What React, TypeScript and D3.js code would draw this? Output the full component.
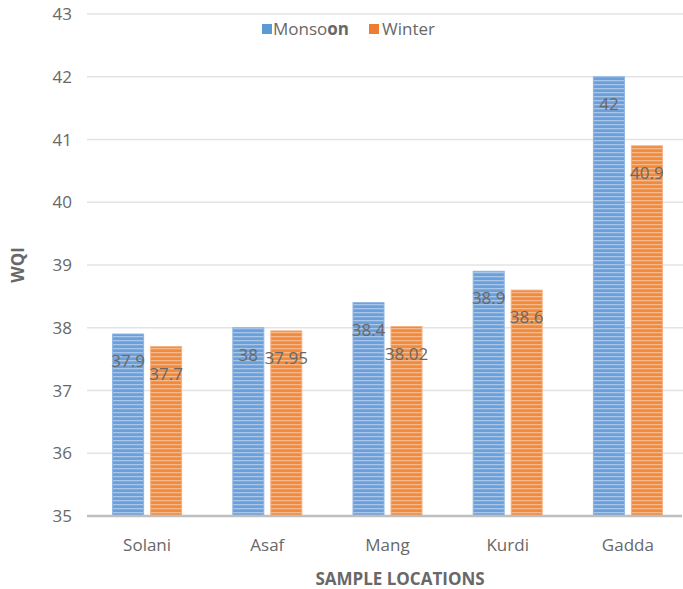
import React from "react";
import * as d3 from "d3";

const categories = ["Solani", "Asaf", "Mang", "Kurdi", "Gadda"];
const monsoon = [37.9, 38, 38.4, 38.9, 42];
const winter = [37.7, 37.95, 38.02, 38.6, 40.9];
const monsoonLabels = ["37.9", "38", "38.4", "38.9", "42"];
const winterLabels = ["37.7", "37.95", "38.02", "38.6", "40.9"];
const yTicks = [35, 36, 37, 38, 39, 40, 41, 42, 43];

const W = 683;
const H = 589;
const left = 87;
const right = 688;
const top = 14;
const bottom = 516;
const FONT = "'Open Sans', sans-serif";
const TXT = "#686868";
const GROUP = 69;

export default function App() {
  const y = d3.scaleLinear().domain([35, 43]).range([bottom, top]);
  const x0 = d3.scaleBand<string>().domain(categories).range([left, right]).padding(0);
  const x1 = d3.scaleBand<string>().domain(["m", "w"]).range([0, GROUP]).paddingInner(0.184);
  const off = (x0.bandwidth() - GROUP) / 2;

  const series = [
    { key: "m", values: monsoon, labels: monsoonLabels, fill: "url(#pBlue)", stroke: "#8db4e2" },
    { key: "w", values: winter, labels: winterLabels, fill: "url(#pOrange)", stroke: "#f4b183" },
  ];

  return (
    <svg width={W} height={H} style={{ position: "absolute", left: 0, top: 0, background: "#fff" }}>
      <defs>
        <pattern id="pBlue" patternUnits="userSpaceOnUse" width="8" height="4">
          <rect width="8" height="4" fill="#6b9fd9" />
          <rect y="0" width="8" height="1.3" fill="#a8c6ea" />
        </pattern>
        <pattern id="pOrange" patternUnits="userSpaceOnUse" width="8" height="4">
          <rect width="8" height="4" fill="#f08a3c" />
          <rect y="0" width="8" height="1.3" fill="#f7b98a" />
        </pattern>
      </defs>
      {yTicks.map((t) => (
        <g key={t}>
          {t !== 35 && <line x1={left} x2={W} y1={y(t)} y2={y(t)} stroke="#e3e3e3" strokeWidth={1.5} />}
          <text x={72} y={y(t)} dy="0.36em" textAnchor="end" fontFamily={FONT} fontSize={17} fill={TXT}>
            {t}
          </text>
        </g>
      ))}
      {categories.map((c, i) => (
        <g key={c} transform={`translate(${(x0(c) as number) + off},0)`}>
          {series.map((s) => (
            <rect
              key={s.key}
              x={x1(s.key)}
              y={y(s.values[i])}
              width={x1.bandwidth()}
              height={bottom - y(s.values[i])}
              fill={s.fill}
              stroke={s.stroke}
              strokeWidth={1}
            />
          ))}
          {series.map((s) => (
            <text
              key={s.key + "l"}
              x={(x1(s.key) as number) + x1.bandwidth() / 2}
              y={y(s.values[i]) + 27}
              dy="0.36em"
              textAnchor="middle"
              fontFamily={FONT}
              fontSize={17}
              fill={TXT}
            >
              {s.labels[i]}
            </text>
          ))}
          <text x={GROUP / 2} y={545} dy="0.36em" textAnchor="middle" fontFamily={FONT} fontSize={17} fill={TXT}>
            {c}
          </text>
        </g>
      ))}
      <line x1={left} x2={W - 1} y1={bottom} y2={bottom} stroke="#bfbfbf" strokeWidth={2.5} />
      <g fontFamily={FONT} fontSize={17} fill={TXT}>
        <rect x={262} y={24} width={10} height={10} fill="#5b9bd5" />
        <text x={273} y={29} dy="0.36em">
          Monso<tspan fontWeight="bold">on</tspan>
        </text>
        <rect x={369} y={24} width={10} height={10} fill="#ed7d31" />
        <text x={382} y={29} dy="0.36em">Winter</text>
      </g>
      <text x={400} y={579} dy="0.36em" textAnchor="middle" fontFamily={FONT} fontSize={17} fontWeight="bold" fill={TXT}>
        SAMPLE LOCATIONS
      </text>
      <text transform={`translate(18,265) rotate(-90)`} dy="0.36em" textAnchor="middle" fontFamily={FONT} fontSize={17} fontWeight="bold" fill={TXT}>
        WQI
      </text>
    </svg>
  );
}
